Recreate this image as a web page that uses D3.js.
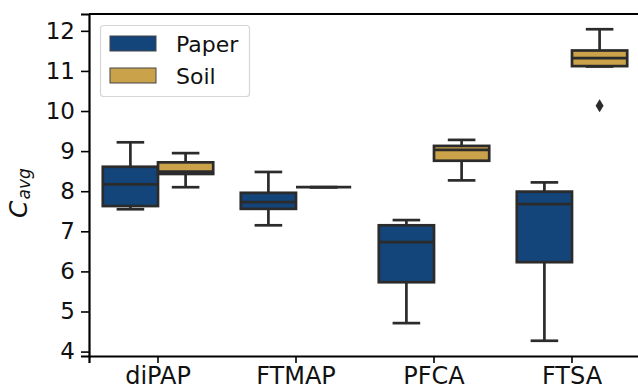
<!DOCTYPE html>
<html>
<head>
<meta charset="utf-8">
<script src="https://cdn.jsdelivr.net/npm/d3@7"></script>
<style>
  body { margin: 0; background: #fff; }
  text { font-family: "DejaVu Sans", sans-serif; fill: #111; }
</style>
</head>
<body>
<svg width="638" height="389"></svg>
<script>
const categories = ["diPAP", "FTMAP", "PFCA", "FTSA"];
const hues = ["Paper", "Soil"];
const hueColors = ["#13457a", "#c9a24a"];

// box stats (whisker low, q1, median, q3, whisker high)
const paperLow = [7.55, 7.15, 4.71, 4.27];
const paperQ1 = [7.63, 7.56, 5.73, 6.23];
const paperMed = [8.17, 7.73, 6.73, 7.68];
const paperQ3 = [8.61, 7.96, 7.15, 7.99];
const paperHigh = [9.22, 8.48, 7.28, 8.22];
const paperOutliers = [[], [], [], []];

const soilLow = [8.10, 8.10, 8.27, 11.11];
const soilQ1 = [8.43, 8.10, 8.76, 11.12];
const soilMed = [8.49, 8.10, 9.03, 11.32];
const soilQ3 = [8.72, 8.10, 9.13, 11.51];
const soilHigh = [8.95, 8.10, 9.28, 12.04];
const soilOutliers = [[], [], [], [10.13]];

const yTicks = [4, 5, 6, 7, 8, 9, 10, 11, 12];

let svg = d3.select("svg");
let plotLeft = 89, plotRight = 641, plotTop = 14, plotBottom = 356;
let edge = "#2b2b2b";

let x = d3.scaleBand().domain(categories).range([plotLeft, plotRight]);
let xHue = d3.scaleBand().domain(hues).range([x.bandwidth() * 0.1, x.bandwidth() * 0.9]);
let y = d3.scaleLinear().domain([3.89, 12.42]).range([plotBottom, plotTop]);

// build rows for every box
let rows = [];
categories.forEach((c, i) => {
  rows.push({cat: c, hue: "Paper", lo: paperLow[i], q1: paperQ1[i], med: paperMed[i], q3: paperQ3[i], hi: paperHigh[i], out: paperOutliers[i]});
  rows.push({cat: c, hue: "Soil", lo: soilLow[i], q1: soilQ1[i], med: soilMed[i], q3: soilQ3[i], hi: soilHigh[i], out: soilOutliers[i]});
});

let bw = xHue.bandwidth();
let color = d3.scaleOrdinal().domain(hues).range(hueColors);

let boxes = svg.append("g").selectAll("g").data(rows).join("g")
  .attr("transform", d => "translate(" + (x(d.cat) + xHue(d.hue)) + ",0)");

// whiskers
boxes.append("line")
  .attr("x1", bw / 2).attr("x2", bw / 2)
  .attr("y1", d => y(d.q3)).attr("y2", d => y(d.hi))
  .attr("stroke", edge).attr("stroke-width", 2.7);
boxes.append("line")
  .attr("x1", bw / 2).attr("x2", bw / 2)
  .attr("y1", d => y(d.q1)).attr("y2", d => y(d.lo))
  .attr("stroke", edge).attr("stroke-width", 2.7);
// caps
boxes.selectAll(".cap").data(d => [d.lo, d.hi]).join("line")
  .attr("class", "cap")
  .attr("x1", bw / 4).attr("x2", bw * 3 / 4)
  .attr("y1", v => y(v)).attr("y2", v => y(v))
  .attr("stroke", edge).attr("stroke-width", 2.7);
// box
boxes.append("rect")
  .attr("x", 0).attr("width", bw)
  .attr("y", d => y(d.q3))
  .attr("height", d => y(d.q1) - y(d.q3))
  .attr("fill", d => color(d.hue))
  .attr("stroke", edge).attr("stroke-width", 2.7);
// median
boxes.append("line")
  .attr("x1", 0).attr("x2", bw)
  .attr("y1", d => y(d.med)).attr("y2", d => y(d.med))
  .attr("stroke", edge).attr("stroke-width", 2.7);
// outliers
boxes.selectAll(".out").data(d => d.out).join("path")
  .attr("class", "out")
  .attr("d", "M0,-6.5L4,0L0,6.5L-4,0Z")
  .attr("transform", v => "translate(" + bw / 2 + "," + y(v) + ")")
  .attr("fill", edge);

// axes
let xAxis = svg.append("g")
  .attr("transform", "translate(0," + plotBottom + ")")
  .call(d3.axisBottom(x).tickSizeOuter(0).tickSize(7));
let yAxis = svg.append("g")
  .attr("transform", "translate(" + plotLeft + ",0)")
  .call(d3.axisLeft(y).tickValues(yTicks).tickSizeOuter(0).tickSize(8).tickPadding(6));
[xAxis, yAxis].forEach(a => {
  a.select(".domain").attr("stroke", "#000").attr("stroke-width", 2.2);
  a.selectAll(".tick line").attr("stroke", "#000").attr("stroke-width", 1.6);
  a.selectAll(".tick text").attr("font-family", "DejaVu Sans").attr("fill", "#111");
});
xAxis.selectAll(".tick text").attr("font-size", 24).attr("y", 28).attr("dy", 0);
yAxis.selectAll(".tick text").attr("font-size", 23);

// top spine
svg.append("line")
  .attr("x1", plotLeft).attr("x2", plotRight)
  .attr("y1", plotTop).attr("y2", plotTop)
  .attr("stroke", "#000").attr("stroke-width", 2.2);

// y label
let ylab = svg.append("text")
  .attr("transform", "translate(27,218) rotate(-90)")
  .attr("text-anchor", "start")
  .attr("font-size", 25)
  .attr("font-style", "italic");
ylab.append("tspan").text("C");
ylab.append("tspan").attr("font-size", 17).attr("dx", 1).attr("dy", 3).text("avg");

// legend
let leg = svg.append("g");
leg.append("rect")
  .attr("x", 100.5).attr("y", 25.5).attr("width", 149).attr("height", 71)
  .attr("rx", 3).attr("fill", "#fff").attr("fill-opacity", 0.8)
  .attr("stroke", "#d6d6d6").attr("stroke-width", 1.2);
let items = leg.selectAll(".item").data(hues).join("g")
  .attr("class", "item")
  .attr("transform", (d, i) => "translate(110," + (36 + i * 32) + ")");
items.append("rect")
  .attr("width", 46).attr("height", 15)
  .attr("fill", d => color(d))
  .attr("stroke", "#444").attr("stroke-width", 1);
items.append("text")
  .attr("x", 66).attr("y", 16)
  .attr("font-size", 22)
  .text(d => d);
</script>
</body>
</html>
